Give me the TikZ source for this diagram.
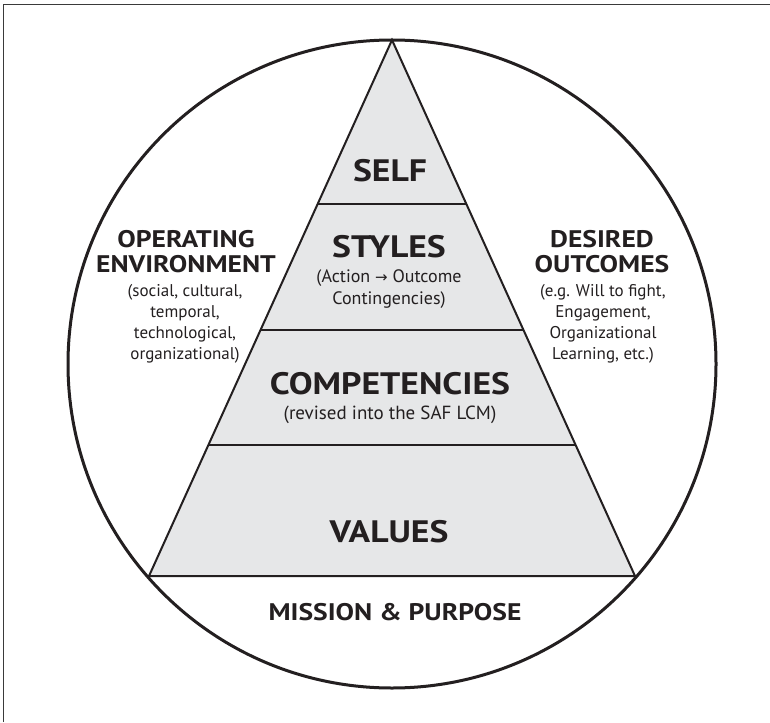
\documentclass[tikz,border=0pt]{standalone}
\usepackage{fontspec}
\usepackage{graphicx}
\setmainfont{PT Sans}
\newfontfamily\arrowfont{DejaVu Sans}
\usetikzlibrary{calc}
\definecolor{ink}{HTML}{231F20}
\definecolor{layerfill}{HTML}{E6E7E8}
\definecolor{framecol}{HTML}{3A3A3A}
\newcommand{\widebold}[1]{\scalebox{1.15}[1]{#1}}
\begin{document}
\begin{tikzpicture}[x=1pt,y=-1pt,
  bigtxt/.style={anchor=base,text=ink,inner sep=0pt,font=\bfseries\fontsize{31}{31}\selectfont},
  headtxt/.style={anchor=base,text=ink,inner sep=0pt,font=\bfseries\fontsize{24}{24}\selectfont},
  smalltxt/.style={anchor=base,text=ink,inner sep=0pt,font=\fontsize{17}{17}\selectfont},
  midtxt/.style={anchor=base,text=ink,inner sep=0pt,font=\fontsize{18}{18}\selectfont},
  subtxt/.style={anchor=base,text=ink,inner sep=0pt,font=\fontsize{19}{19}\selectfont},
  layerline/.style={draw=ink,line width=2pt},
  ringline/.style={draw=ink,line width=3pt}]
\useasboundingbox (0,0) rectangle (770,722);
% frame (top and left edges)
\draw[framecol,line width=1.6pt] (3.5,722) -- (3.5,4.5) -- (770,4.5);
% circle
\coordinate (cc) at (392,364);
\draw[ringline] (cc) circle[radius=324];
% triangle
\coordinate (apex) at (392,40);
\coordinate (bl) at (149,576);
\coordinate (br) at (635,576);
\filldraw[fill=layerfill,layerline,line join=miter] (apex) -- (bl) -- (br) -- cycle;
% dividers
\coordinate (l1) at ($(apex)!0.3060!(bl)$); \coordinate (r1) at ($(apex)!0.3060!(br)$);
\coordinate (l2) at ($(apex)!0.5410!(bl)$); \coordinate (r2) at ($(apex)!0.5410!(br)$);
\coordinate (l3) at ($(apex)!0.7556!(bl)$); \coordinate (r3) at ($(apex)!0.7556!(br)$);
\draw[layerline] (l1) -- (r1);
\draw[layerline] (l2) -- (r2);
\draw[layerline] (l3) -- (r3);
% layer texts
\node[bigtxt] (self) at (390,182) {\widebold{SELF}};
\node[bigtxt] (styles) at (389,257) {\widebold{STYLES}};
\node[midtxt] (styles1) at (389,282) {(Action {\arrowfont\fontsize{15}{15}\selectfont →} Outcome};
\node[midtxt] (styles2) at (389,304) {Contingencies)};
\node[bigtxt] (comp) at (390,394) {\widebold{COMPETENCIES}};
\node[subtxt] (comp1) at (390,419) {(revised into the SAF LCM)};
\node[bigtxt] (values) at (389,542) {\widebold{VALUES}};
% mission
\node[headtxt] (mission) at (395,620) {\widebold{MISSION \& PURPOSE}};
% left
\node[headtxt] (op1) at (186,247) {\widebold{OPERATING}};
\node[headtxt] (op2) at (186,272) {\widebold{ENVIRONMENT}};
\node[smalltxt] (opa) at (185,296) {(social, cultural,};
\node[smalltxt] (opb) at (185,317) {temporal,};
\node[smalltxt] (opc) at (185,338) {technological,};
\node[smalltxt] (opd) at (185,359) {organizational)};
% right
\node[headtxt] (de1) at (602,247) {\widebold{DESIRED}};
\node[headtxt] (de2) at (602,272) {\widebold{OUTCOMES}};
\node[smalltxt] (dea) at (603,296) {(e.g. Will to fight,};
\node[smalltxt] (deb) at (603,317) {Engagement,};
\node[smalltxt] (dec) at (603,338) {Organizational};
\node[smalltxt] (ded) at (603,359) {Learning, etc.)};
\end{tikzpicture}
\end{document}
